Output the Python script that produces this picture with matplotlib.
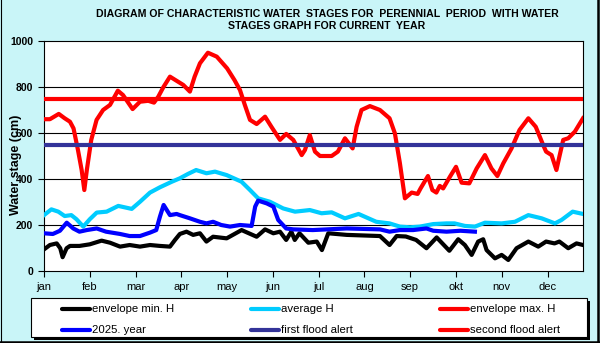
import matplotlib
matplotlib.use("Agg")
import matplotlib.pyplot as plt
from matplotlib.lines import Line2D
from matplotlib.patches import Rectangle

# ---- data (day of year, water stage in cm) ----
month_labels = ["jan", "feb", "mar", "apr", "may", "jun",
                "jul", "aug", "sep", "okt", "nov", "dec"]

max_days = [0, 4, 10, 14, 17.6, 20, 23, 25.5, 27.3, 29, 32, 35.6, 40, 44.7, 50,
            53.5, 60, 65, 70.6, 74.5, 77.4, 80.8, 85.3, 89.8, 94.3, 98.8, 102,
            105.6, 111, 117, 124, 129, 132.7, 136, 139.5, 144, 149.7, 154, 159.8,
            164, 168.8, 174.5, 176.7, 180, 183.5, 186.9, 194.8, 199, 203.8, 209,
            211.7, 215, 220.7, 227.5, 234, 237.6, 241, 244.4, 249, 253, 255, 260,
            263, 265.7, 268, 270.3, 274.9, 279, 282.8, 288, 293, 298.6, 303, 307,
            311, 316.6, 322, 328, 333, 338, 340, 343.7, 347, 349, 351.6, 355,
            359.5, 365]
max_vals = [660, 660, 683, 664, 649, 620, 526, 439, 352, 439, 570, 657, 700, 722,
            784, 765, 704, 736, 740, 732, 758, 799, 845, 827, 809, 780, 845, 903,
            949, 932, 881, 830, 787, 722, 657, 639, 671, 627, 570, 596, 570, 504,
            526, 591, 519, 500, 500, 519, 577, 533, 627, 700, 717, 700, 664, 599,
            469, 316, 341, 335, 359, 413, 352, 341, 370, 359, 410, 453, 384, 381,
            446, 504, 446, 413, 468, 533, 613, 664, 627, 548, 519, 504, 439, 497,
            570, 577, 606, 664]

avg_days = [0, 5, 9.7, 14, 18.5, 22, 26.6, 31, 35.7, 42.4, 50.3, 59.4, 65, 71.8,
            78.5, 86.5, 92, 97.5, 103, 110, 115.8, 123.7, 133.8, 139.5, 145, 153,
            162, 170, 180, 188, 194.8, 203.8, 213, 225, 234, 241, 247.8, 254.5,
            263.6, 272.6, 278, 285, 291.8, 298.6, 309.9, 318.9, 328, 337, 346,
            350.5, 358, 365]
avg_vals = [243, 268, 258, 239, 243, 225, 193, 225, 254, 258, 283, 270, 301, 341,
            364, 388, 403, 422, 439, 425, 432, 417, 388, 352, 316, 301, 272, 258,
            265, 251, 255, 229, 248, 214, 207, 193, 190, 193, 204, 207, 207, 196,
            193, 210, 207, 214, 243, 229, 207, 222, 258, 248]

min_days = [0, 4, 8.6, 11, 12.6, 15.3, 17.6, 24, 31, 39, 44.7, 51.5, 58, 65, 71.8,
            78.5, 85.3, 88.7, 92, 96.5, 101, 105.6, 110, 114.5, 123.7, 133.8, 144,
            149.7, 155.3, 159.8, 164, 167.5, 169.8, 173, 179, 184.7, 188.2, 192.5,
            205, 227.5, 234, 238.8, 245, 252, 259, 265.9, 274.5, 280.5, 285, 289.6,
            294, 297.4, 299.7, 305.4, 309.9, 314.4, 320, 328, 334.7, 340, 345.7,
            349, 355, 360.6, 365]
min_vals = [94, 113, 120, 99, 60, 99, 109, 109, 116, 132, 123, 106, 113, 106, 113,
            109, 106, 135, 161, 171, 157, 164, 128, 149, 142, 178, 149, 181, 164,
            171, 135, 171, 135, 164, 123, 128, 91, 164, 157, 152, 113, 152, 150,
            135, 99, 146, 88, 138, 113, 70, 128, 138, 91, 55, 70, 48, 99, 128, 106,
            128, 120, 128, 99, 120, 113]

cur_days = [0, 6, 10.8, 15.4, 19.8, 24, 29, 35.7, 42, 51.5, 58, 65, 71.8, 76, 78.5,
            81, 85.3, 89.8, 92, 98.8, 105.6, 110, 114.5, 120, 126, 132.7, 140.6,
            143, 145, 150.8, 155.3, 158.6, 164, 168.8, 182, 205, 227.5, 234, 241,
            250, 259, 263.6, 272.6, 282, 291.8]
cur_vals = [164, 161, 175, 210, 185, 171, 178, 185, 171, 161, 152, 152, 167, 178,
            236, 287, 243, 248, 243, 229, 214, 207, 214, 200, 193, 200, 196, 280,
            306, 294, 280, 222, 185, 181, 178, 185, 181, 171, 178, 178, 185, 175,
            171, 175, 171]

first_alert = 550
second_alert = 750

series_labels = ["envelope min. H", "average H", "envelope max. H",
                 "2025. year", "first flood alert", "second flood alert"]
series_colors = ["#000000", "#00ccff", "#ff0000", "#0000ff", "#333399", "#ff0000"]

# ---- figure ----
W, H = 600, 343
plt.rcParams['font.family'] = ['Liberation Sans', 'DejaVu Sans']
fig = plt.figure(figsize=(W / 100, H / 100), dpi=100)
fig.patch.set_facecolor('#c9f5f8')


def fx(x):
    return x / W


def fy(y):
    return 1 - y / H


ax = fig.add_axes([fx(44), fy(271), (583 - 44) / W, (271 - 41) / H])
ax.set_facecolor('white')

lw = 3.0
ax.plot(min_days, min_vals, color=series_colors[0], lw=lw, solid_joinstyle='round', zorder=3)
ax.plot(avg_days, avg_vals, color=series_colors[1], lw=lw, solid_joinstyle='round', zorder=3)
ax.plot(max_days, max_vals, color=series_colors[2], lw=lw, solid_joinstyle='round', zorder=3)
ax.plot(cur_days, cur_vals, color=series_colors[3], lw=lw, solid_joinstyle='round', zorder=3)
ax.axhline(first_alert, color=series_colors[4], lw=lw, zorder=4)
ax.axhline(second_alert, color=series_colors[5], lw=lw, zorder=4)

ax.set_xlim(0, 365)
ax.set_ylim(0, 1000)
ax.set_xticks([31 * i for i in range(12)])
ax.set_xticklabels(month_labels, fontsize=8)
ax.set_yticks(range(0, 1001, 200))
ax.set_yticklabels([str(v) for v in range(0, 1001, 200)], fontsize=7.5, fontweight='bold')
ax.tick_params(axis='both', direction='out', length=4, width=0.8, color='black', pad=4)
for v in (200, 400, 600, 800):
    ax.axhline(v, color='black', lw=0.8, zorder=1)
for s in ax.spines.values():
    s.set_color('black')
    s.set_linewidth(0.8)

fig.text(fx(16), fy(165), "Water stage (cm)", rotation=90, fontsize=9,
         fontweight='bold', ha='center', va='center')

fig.text(fx(327), fy(14), "DIAGRAM OF CHARACTERISTIC WATER  STAGES FOR  PERENNIAL  PERIOD  WITH WATER",
         fontsize=7.6, fontweight='bold', ha='center', va='center')
fig.text(fx(327), fy(26), "STAGES GRAPH FOR CURRENT  YEAR",
         fontsize=7.6, fontweight='bold', ha='center', va='center')

# ---- legend box ----
bx0, by0, bx1, by1 = 31, 298, 587, 337
fig.add_artist(Rectangle((fx(bx0 + 3), fy(by1 + 3)), (bx1 - bx0) / W, (by1 - by0) / H,
                         transform=fig.transFigure, facecolor='black', edgecolor='black', lw=0))
fig.add_artist(Rectangle((fx(bx0), fy(by1)), (bx1 - bx0) / W, (by1 - by0) / H,
                         transform=fig.transFigure, facecolor='white', edgecolor='black', lw=0.8))
col_x = [62, 251, 440]
row_y = [309, 330]
for k in range(6):
    r, c = divmod(k, 3)
    x0 = col_x[c]
    y0 = row_y[r]
    fig.add_artist(Line2D([fx(x0), fx(x0 + 28)], [fy(y0), fy(y0)], transform=fig.transFigure,
                          color=series_colors[k], lw=lw, solid_capstyle='round'))
    fig.text(fx(x0 + 30), fy(y0), series_labels[k], fontsize=8.2, ha='left', va='center')

# ---- chart frame ----
fig.add_artist(Line2D([fx(0.5), fx(0.5)], [fy(0), fy(342)], transform=fig.transFigure,
                      color='black', lw=0.8))
fig.add_artist(Line2D([fx(597.5), fx(597.5)], [fy(0), fy(342)], transform=fig.transFigure,
                      color='black', lw=1.8))
fig.add_artist(Line2D([fx(0), fx(598.5)], [fy(341.8), fy(341.8)], transform=fig.transFigure,
                      color='black', lw=1.8))

fig.savefig("out.png", dpi=100, facecolor=fig.get_facecolor())
